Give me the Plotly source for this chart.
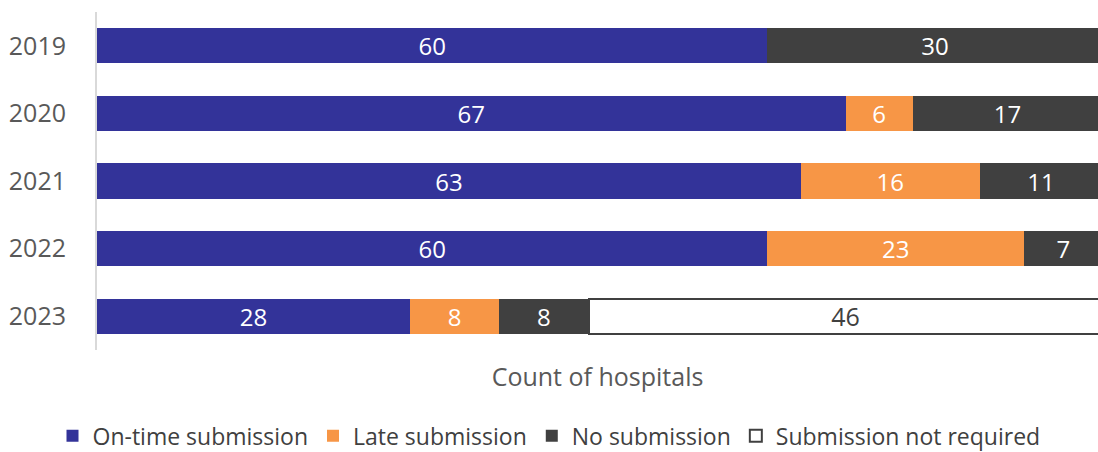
import plotly.graph_objects as go

years = ["2019", "2020", "2021", "2022", "2023"]
on_time = [60, 67, 63, 60, 28]
late = [0, 6, 16, 23, 8]
no_sub = [30, 17, 11, 7, 8]
not_required = [0, 0, 0, 0, 46]

series = [
    ("On-time submission", on_time, "#333399", "white"),
    ("Late submission", late, "#F79646", "white"),
    ("No submission", no_sub, "#404040", "white"),
    ("Submission not required", not_required, "white", "#404040"),
]

FONT = "Open Sans, Noto Sans, sans-serif"

fig = go.Figure()
for name, vals, fill, tcol in series:
    is_white = fill == "white"
    fig.add_trace(go.Bar(
        y=years, x=vals, name=name, orientation="h",
        marker=dict(color=fill, line=dict(color="#404040", width=2 if is_white else 0)),
        text=[str(v) if v else "" for v in vals],
        textposition="inside", insidetextanchor="middle", textangle=0,
        constraintext="none",
        textfont=dict(family=FONT, size=25 if is_white else 24, color=tcol),
        hoverinfo="skip",
    ))

fig.update_layout(
    barmode="stack",
    width=1098, height=452,
    margin=dict(l=97, r=0, t=12, b=102, autoexpand=False),
    plot_bgcolor="white", paper_bgcolor="white",
    bargap=0.48,
    font=dict(family=FONT, size=23, color="#595959"),
    xaxis=dict(range=[0, 89.6], showgrid=False, showticklabels=False, zeroline=False,
               showline=False, ticks="",
               title=dict(text="Count of hospitals", font=dict(size=25, color="#595959"), standoff=18)),
    yaxis=dict(autorange="reversed", showgrid=False, showline=True, linecolor="#D9D9D9",
               linewidth=2, ticks="", ticklabelstandoff=24,
               tickfont=dict(size=25, color="#595959")),
    legend=dict(orientation="h", xref="container", x=0.5, xanchor="center",
                yref="container", y=0.036, yanchor="middle",
                font=dict(size=23, color="#404040"), itemwidth=30, traceorder="normal"),
)

fig.write_html("out.html")
